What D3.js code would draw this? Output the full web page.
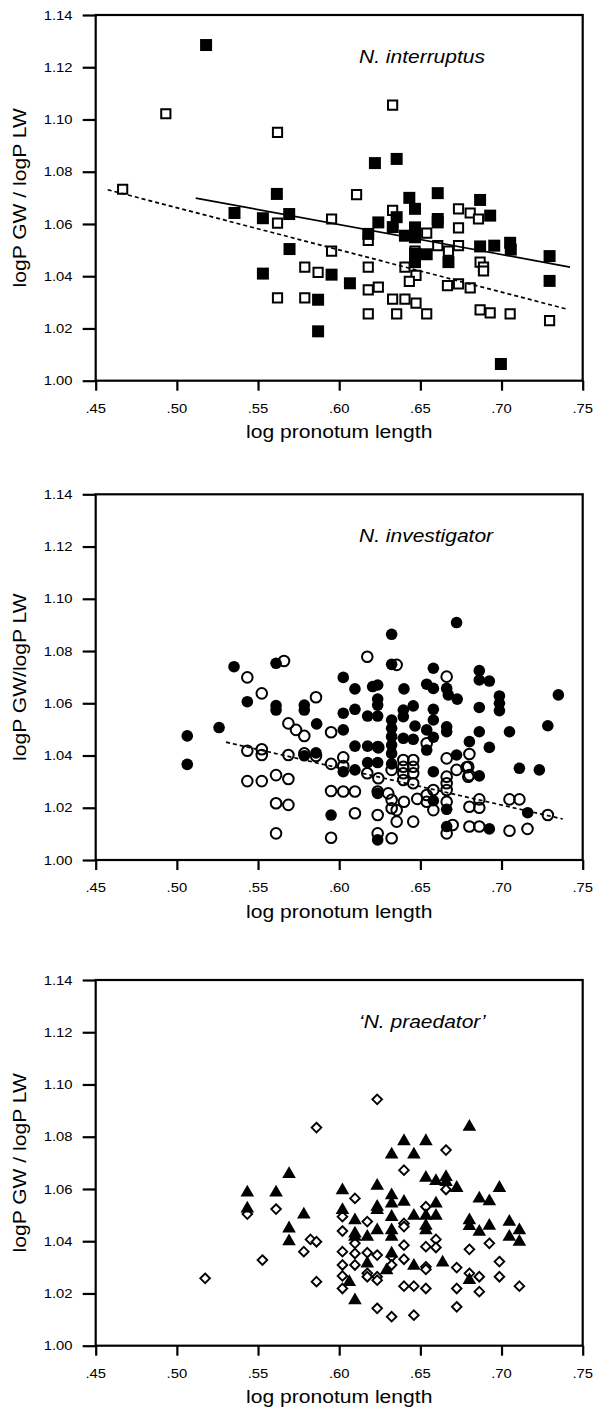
<!DOCTYPE html>
<html><head><meta charset="utf-8">
<script src="https://cdn.jsdelivr.net/npm/d3@7"></script>
<style>html,body{margin:0;padding:0;background:#fff;}svg{display:block;}</style>
</head><body>
<script>
const xTicks = [0.45,0.50,0.55,0.60,0.65,0.70,0.75];
const xTickLabels = [".45",".50",".55",".60",".65",".70",".75"];
const yTicks = [1.00,1.02,1.04,1.06,1.08,1.10,1.12,1.14];
const yTickLabels = ["1.00","1.02","1.04","1.06","1.08","1.10","1.12","1.14"];
const xTitle = "log pronotum length";
const yTitles = ["logP GW / logP LW","logP GW/logP LW","logP GW / logP LW"];
const speciesNames = ["N. interruptus","N. investigator","\u2018N. praedator\u2019"];

// Panel 1: N. interruptus (squares)
const interruptusFilled = [[.518,1.1285],[.5355,1.0642],[.553,1.0622],[.5616,1.0715],[.5692,1.0638],[.5694,1.0504],[.553,1.041],
 [.622,1.0833],[.6354,1.0849],[.6179,1.0562],[.6241,1.0606],[.6354,1.0626],[.633,1.0588],[.6432,1.07],[.6467,1.0658],[.6405,1.0555],
 [.6467,1.0587],[.6467,1.0549],[.6467,1.0486],[.6467,1.0454],[.6607,1.0718],[.6607,1.0619],[.6607,1.0606],[.6539,1.0484],[.6673,1.0454],
 [.6868,1.0692],[.693,1.0632],[.6868,1.0514],[.6955,1.0517],[.7053,1.0528],[.7057,1.0502],[.7296,1.0477],[.7296,1.0382],
 [.5953,1.0406],[.6066,1.0373],[.587,1.031],[.587,1.0189],[.6996,1.0064]];
const interruptusOpen = [[.4666,1.0733],[.4932,1.1022],[.562,1.0951],[.562,1.0603],[.562,1.0317],
 [.6329,1.1055],[.6107,1.0712],[.5953,1.0619],[.6329,1.0652],[.6179,1.0537],[.6539,1.0565],[.6735,1.0658],[.6807,1.0642],[.6858,1.0619],
 [.6735,1.0585],[.6607,1.0517],[.6673,1.0496],[.6735,1.0517],[.6467,1.0496],[.5953,1.0496],[.5788,1.0435],[.587,1.0415],[.6179,1.0435],
 [.6405,1.0435],[.6473,1.0403],[.6432,1.038],[.6868,1.0454],[.6889,1.0435],[.6889,1.042],[.6667,1.0364],[.6735,1.0371],[.6807,1.0355],
 [.6179,1.0348],[.6241,1.0358],[.5788,1.0317],[.6329,1.0312],[.6405,1.0312],[.6473,1.0297],[.6179,1.0256],[.6354,1.0256],[.6539,1.0256],
 [.6868,1.0271],[.693,1.026],[.7053,1.0256],[.7296,1.023]];
const interruptusSolidLine = [[.5116,1.0699],[.7422,1.0435]];
const interruptusDashedLine = [[.4574,1.0731],[.7397,1.0275]];

// Panel 2: N. investigator (circles)
const investigatorFilled = [[.5064,1.0475],[.5064,1.0366],[.526,1.0507],[.5352,1.074],[.5434,1.0606],[.5611,1.0753],[.5611,1.0591],[.5611,1.0574],
 [.5785,1.0593],[.5785,1.0574],[.5861,1.0521],[.5785,1.0399],[.5857,1.041],[.595,1.0172],
 [.6723,1.0909],[.6323,1.0864],[.6323,1.0749],[.658,1.0734],[.6025,1.0699],[.6097,1.0655],[.6206,1.0664],[.6237,1.067],[.6399,1.0655],
 [.6539,1.0673],[.658,1.0657],[.6662,1.0657],[.6672,1.0632],[.6727,1.0616],[.6237,1.0616],[.6237,1.0593],[.6025,1.0562],[.6097,1.0577],
 [.6175,1.0551],[.6237,1.0551],[.6395,1.0574],[.6456,1.059],[.6395,1.0549],[.6323,1.0536],[.6323,1.0504],[.6323,1.0472],[.6323,1.044],
 [.6323,1.0408],[.658,1.0577],[.658,1.0536],[.6662,1.051],[.6662,1.0491],[.6467,1.0513],[.6539,1.0498],[.6025,1.0498],[.658,1.047],
 [.6395,1.0466],[.6456,1.0462],[.6539,1.0421],[.6097,1.0436],[.6175,1.0436],[.6237,1.0434],[.6802,1.0453],[.6723,1.0402],[.6025,1.0338],
 [.6097,1.0345],[.6175,1.0373],[.6237,1.0373],[.6323,1.0368],[.658,1.0338],[.6237,1.0255],[.658,1.0227],[.6662,1.0194],[.6662,1.0128],
 [.6237,1.0077],
 [.6863,1.0725],[.6863,1.0689],[.6925,1.0685],[.6987,1.0628],[.6987,1.06],[.6987,1.0572],[.6863,1.0584],[.6863,1.0491],[.7049,1.0491],
 [.6925,1.0431],[.6863,1.0322],[.6925,1.0119],[.7161,1.0181],[.711,1.0351],[.7233,1.0345],[.7285,1.0514],[.735,1.0632]];
const investigatorOpen = [[.566,1.0762],[.5434,1.0699],[.5523,1.0638],[.5687,1.0523],[.5434,1.0418],[.5523,1.0424],[.5523,1.0402],[.5687,1.0402],
 [.5434,1.0302],[.5523,1.0302],[.5611,1.0325],[.5687,1.031],[.5611,1.0217],[.5687,1.0211],[.5611,1.0102],[.5857,1.0623],[.5734,1.0498],
 [.5785,1.0475],[.595,1.0489],[.5785,1.0408],[.5857,1.0398],[.595,1.0368],[.595,1.0264],[.595,1.0085],
 [.6173,1.0778],[.6354,1.0747],[.6662,1.0702],[.6539,1.0447],[.6241,1.0431],[.6025,1.0393],[.6025,1.036],[.6395,1.0383],[.6395,1.0357],
 [.6395,1.0332],[.6395,1.0306],[.6456,1.0383],[.6456,1.0357],[.6456,1.0332],[.6456,1.0294],[.6173,1.0332],[.6323,1.0345],[.6241,1.0313],
 [.6662,1.0389],[.6723,1.0345],[.6795,1.0357],[.6795,1.0319],[.6025,1.0262],[.6097,1.0262],[.6237,1.0262],[.6302,1.0255],[.6323,1.023],
 [.6323,1.0198],[.6354,1.0191],[.6399,1.0223],[.6481,1.0234],[.6539,1.0249],[.6539,1.0223],[.658,1.0268],[.658,1.0191],[.6662,1.0319],
 [.6662,1.0294],[.6662,1.0268],[.6662,1.0223],[.6097,1.0179],[.6237,1.0172],[.6354,1.0147],[.6456,1.0147],[.6237,1.0102],[.6323,1.0083],
 [.6662,1.0102],[.6699,1.0134],
 [.6802,1.0406],[.6785,1.0355],[.6802,1.0325],[.6863,1.0232],[.6863,1.02],[.6802,1.0204],[.6802,1.0128],[.6863,1.0128],[.7049,1.0112],
 [.716,1.0119],[.7049,1.0232],[.711,1.0232],[.7285,1.0172]];
const investigatorDashedLine = [[.5303,1.0451],[.7377,1.0157]];

// Panel 3: 'N. praedator' (triangles / diamonds)
const praedatorFilled = [[.5434,1.0593],[.5434,1.0532],[.5611,1.0593],[.5691,1.0664],[.5691,1.0456],[.5691,1.0407],[.5782,1.0509],
 [.602,1.0602],[.602,1.0526],[.6097,1.0487],[.6097,1.0436],[.6097,1.0424],[.6173,1.0424],[.6234,1.0619],[.6234,1.0539],[.6234,1.0526],
 [.6234,1.0449],[.6323,1.0739],[.6323,1.0583],[.6323,1.0551],[.6323,1.05],[.6323,1.0449],[.6323,1.0424],[.6323,1.036],[.6399,1.079],
 [.6399,1.0558],[.646,1.0739],[.646,1.0504],[.6534,1.079],[.6534,1.065],[.6534,1.0504],[.6534,1.0466],[.6534,1.0449],[.6596,1.0637],
 [.6596,1.0551],[.6596,1.0504],[.6658,1.0653],[.6658,1.0634],[.6724,1.0611],[.6802,1.0845],[.6802,1.0487],[.6802,1.0465],[.6863,1.057],
 [.6925,1.056],[.6863,1.0443],[.6925,1.0466],[.6987,1.0611],[.7048,1.0481],[.7048,1.0424],[.711,1.0449],[.711,1.0405],
 [.6173,1.0322],[.6062,1.0251],[.6097,1.0181],[.6292,1.0296],[.646,1.0313],[.6637,1.0325],[.6802,1.0258]];
const praedatorOpen = [[.5174,1.0258],[.5434,1.0504],[.5611,1.0523],[.5527,1.0328],
 [.586,1.0835],[.6234,1.0943],[.6658,1.0749],[.6399,1.0672],[.6658,1.0598],[.6097,1.0564],[.6534,1.0532],[.602,1.0494],[.6173,1.0475],
 [.6399,1.0468],[.6399,1.0456],[.602,1.0439],[.5823,1.0407],[.586,1.0398],[.5782,1.036],[.6097,1.0392],[.6399,1.0385],[.6596,1.0407],
 [.6534,1.0379],[.6596,1.0376],[.6802,1.0369],[.6925,1.0392],[.602,1.036],[.6097,1.0353],[.6173,1.0356],[.6234,1.0347],[.6323,1.0341],
 [.6399,1.0331],[.602,1.0309],[.602,1.0267],[.602,1.0219],[.6097,1.0309],[.6173,1.0277],[.6173,1.0264],[.6234,1.0264],[.6234,1.0251],
 [.6323,1.0309],[.6534,1.0302],[.6534,1.0292],[.6724,1.0299],[.6802,1.0277],[.6863,1.0264],[.6987,1.0322],[.6987,1.0264],[.586,1.0245],
 [.6399,1.0228],[.646,1.0228],[.6534,1.0219],[.6724,1.0219],[.6863,1.0207],[.711,1.0228],[.6234,1.0143],[.6323,1.0111],[.646,1.0117],
 [.6724,1.0149]];

const W = 593, H = 1411;
const svg = d3.select("body").append("svg").attr("width", W).attr("height", H)
  .style("font-family", "'Liberation Sans', Arial, Helvetica, sans-serif");

const left = 95.7, right = 582.7, plotH = 365.7;
const tops = [15, 494.3, 980];
const SX = 1.14;

const x = d3.scaleLinear().domain([0.45, 0.75]).range([left, right]);

function hText(g, tx, ty, str, size, anchor, italic, sx) {
  const t = g.append("text")
    .attr("transform", `translate(${tx},${ty}) scale(${sx || SX},1)`)
    .attr("text-anchor", anchor).attr("font-size", size).attr("fill", "#000").text(str);
  if (italic) t.attr("font-style", "italic");
  return t;
}

const symSquare = s => `M${-s/2},${-s/2}h${s}v${s}h${-s}Z`;
const symTri = `M0,-6L6.8,5.8L-6.8,5.8Z`;
const symDiamond = `M0,-4.8L4.8,0L0,4.8L-4.8,0Z`;

const panels = [
  {filled: interruptusFilled, open: interruptusOpen, type: "square",
   lines: [{pts: interruptusSolidLine, dash: null}, {pts: interruptusDashedLine, dash: "4,3"}]},
  {filled: investigatorFilled, open: investigatorOpen, type: "circle",
   lines: [{pts: investigatorDashedLine, dash: "4,3"}]},
  {filled: praedatorFilled, open: praedatorOpen, type: "tri", lines: []}
];

panels.forEach((p, i) => {
  const top = tops[i], bottom = top + plotH;
  const y = d3.scaleLinear().domain([1.00, 1.14]).range([bottom, top]);
  const g = svg.append("g");

  // frame
  g.append("rect").attr("x", left).attr("y", top).attr("width", right - left).attr("height", plotH)
    .attr("fill", "none").attr("stroke", "#000").attr("stroke-width", 2.2);

  // y axis
  const yAxis = d3.axisLeft(y).tickValues(yTicks).tickFormat((d, k) => yTickLabels[k]).tickSize(13).tickPadding(0);
  const ya = g.append("g").attr("transform", `translate(${left},0)`).call(yAxis);
  ya.select(".domain").remove();
  ya.selectAll(".tick line").attr("stroke", "#000").attr("stroke-width", 2.2);
  ya.selectAll(".tick text").remove();
  yTicks.forEach((v, k) => hText(g, 72.5, y(v) + 4.7, yTickLabels[k], 13, "end"));

  // x axis
  const xAxis = d3.axisBottom(x).tickValues(xTicks).tickSize(10).tickPadding(0);
  const xa = g.append("g").attr("transform", `translate(0,${bottom})`).call(xAxis);
  xa.select(".domain").remove();
  xa.selectAll(".tick line").attr("stroke", "#000").attr("stroke-width", 2.2);
  xa.selectAll(".tick text").remove();
  xTicks.forEach((v, k) => hText(g, x(v), bottom + 32, xTickLabels[k], 13, "middle"));

  // titles
  hText(g, (left + right) / 2, bottom + 57.5, xTitle, 18.5, "middle");
  g.append("text")
    .attr("transform", `translate(25.5,${(top + bottom) / 2}) rotate(-90) scale(${SX},1)`)
    .attr("text-anchor", "middle").attr("font-size", 18.5).attr("fill", "#000").text(yTitles[i]);
  hText(g, 359, top + 47.5, speciesNames[i], 17.5, "start", true, 1.2);

  // points: open first, then filled
  const pts = g.append("g");
  if (p.type === "square") {
    pts.selectAll(".o").data(p.open).join("path").attr("class", "o")
      .attr("transform", d => `translate(${x(d[0])},${y(d[1])})`).attr("d", symSquare(9.2))
      .attr("fill", "#fff").attr("stroke", "#000").attr("stroke-width", 2);
    pts.selectAll(".f").data(p.filled).join("path").attr("class", "f")
      .attr("transform", d => `translate(${x(d[0])},${y(d[1])})`).attr("d", symSquare(12))
      .attr("fill", "#000");
  } else if (p.type === "circle") {
    pts.selectAll(".o").data(p.open).join("circle").attr("class", "o")
      .attr("cx", d => x(d[0])).attr("cy", d => y(d[1])).attr("r", 5.3)
      .attr("fill", "none").attr("stroke", "#000").attr("stroke-width", 2);
    pts.selectAll(".f").data(p.filled).join("circle").attr("class", "f")
      .attr("cx", d => x(d[0])).attr("cy", d => y(d[1])).attr("r", 5.8)
      .attr("fill", "#000");
  } else {
    pts.selectAll(".o").data(p.open).join("path").attr("class", "o")
      .attr("transform", d => `translate(${x(d[0])},${y(d[1])})`).attr("d", symDiamond)
      .attr("fill", "#fff").attr("stroke", "#000").attr("stroke-width", 1.9);
    pts.selectAll(".f").data(p.filled).join("path").attr("class", "f")
      .attr("transform", d => `translate(${x(d[0])},${y(d[1])})`).attr("d", symTri)
      .attr("fill", "#000");
  }

  // regression lines
  const line = d3.line().x(d => x(d[0])).y(d => y(d[1]));
  p.lines.forEach(l => {
    const path = g.append("path").attr("d", line(l.pts)).attr("fill", "none")
      .attr("stroke", "#000").attr("stroke-width", 1.7);
    if (l.dash) path.attr("stroke-dasharray", l.dash);
  });
});
</script>
</body></html>
